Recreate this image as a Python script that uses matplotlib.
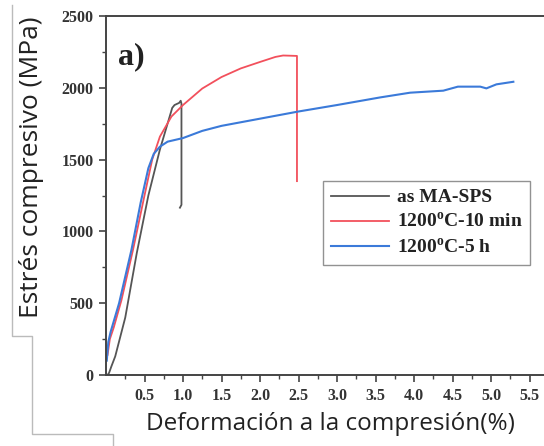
import numpy as np
import matplotlib.pyplot as plt
from matplotlib.lines import Line2D

# 数据
as_sps_x = [0.02, 0.04, 0.07, 0.12, 0.25, 0.40, 0.55, 0.70, 0.86, 0.89, 0.95, 0.97, 0.98, 0.98, 0.96]
as_sps_y = [0, 15, 60, 130, 400, 850, 1250, 1570, 1860, 1880, 1895, 1910, 1890, 1185, 1165]

min10_x = [0.02, 0.05, 0.10, 0.20, 0.35, 0.50, 0.60, 0.70, 0.85, 1.00, 1.25, 1.50, 1.75,
           2.00, 2.20, 2.30, 2.48, 2.48]
min10_y = [140, 250, 330, 520, 870, 1250, 1500, 1660, 1800, 1880, 1995, 2075, 2135,
           2180, 2215, 2225, 2222, 1350]

h5_x = [0.01, 0.03, 0.06, 0.17, 0.33, 0.45, 0.55, 0.62, 0.70, 0.80, 1.00, 1.25, 1.50,
        2.00, 2.50, 3.00, 3.56, 3.95, 4.38, 4.57, 4.86, 4.94, 5.07, 5.29]
h5_y = [100, 230, 300, 500, 870, 1200, 1440, 1540, 1590, 1625, 1650, 1700, 1735,
        1785, 1835, 1880, 1933, 1966, 1980, 2008, 2008, 1996, 2024, 2042]

labels = ['as MA-SPS', '1200$^{\\mathregular{o}}$C-10 min', '1200$^{\\mathregular{o}}$C-5 h']
colors = ['#555555', '#f2505c', '#3b7ad9']

xticks = [0.5, 1.0, 1.5, 2.0, 2.5, 3.0, 3.5, 4.0, 4.5, 5.0, 5.5]
yticks = [0, 500, 1000, 1500, 2000, 2500]

W, H = 544, 446
fig = plt.figure(figsize=(W / 100, H / 100), dpi=100)
ax = fig.add_axes([106 / W, (H - 375) / H, 442 / W, 359 / H])

ax.plot(as_sps_x, as_sps_y, color=colors[0], lw=1.3, label=labels[0])
ax.plot(min10_x, min10_y, color=colors[1], lw=1.3, label=labels[1])
ax.plot(h5_x, h5_y, color=colors[2], lw=1.5, label=labels[2])

ax.set_xlim(0, 5.74)
ax.set_ylim(0, 2500)
ax.set_xticks(xticks)
ax.set_yticks(yticks)
ax.set_xticks(np.arange(0.25, 5.75, 0.5), minor=True)
ax.set_yticks(np.arange(250, 2500, 500), minor=True)

serif = {'family': 'Liberation Serif', 'weight': 'bold', 'size': 11.5}
ax.set_xticklabels([f'{t:.1f}' for t in xticks], fontdict=serif, color='#333333')
ax.set_yticklabels([str(t) for t in yticks], fontdict=serif, color='#333333')
ax.tick_params(which='major', direction='out', length=5, width=1.2, color='#444444', pad=4)
ax.tick_params(which='minor', direction='out', length=3, width=1.0, color='#444444')

for side in ['left', 'bottom', 'top']:
    ax.spines[side].set_color('#444444')
    ax.spines[side].set_linewidth(1.4)
ax.spines['right'].set_visible(False)

ax.text(0.16, 2215, 'a)', fontfamily='Liberation Serif', fontweight='bold',
        fontsize=23, va='center', ha='left', color='#222222')

leg = ax.legend(loc='upper left', bbox_to_anchor=((323 - 106) / 442, (375 - 181) / 359),
                prop={'family': 'Liberation Serif', 'weight': 'bold', 'size': 14},
                frameon=True, fancybox=False, handlelength=3.0, handletextpad=0.4,
                labelspacing=0.3, borderpad=0.4, borderaxespad=0)
leg.get_frame().set_edgecolor('#777777')
leg.get_frame().set_linewidth(1.0)
for t in leg.get_texts():
    t.set_color('#222222')

# 叠加的西班牙语轴标签
fig.text(32 / W, 1 - 167 / H, 'Estrés compresivo (MPa)', rotation=90,
         fontfamily='Open Sans', fontsize=19, ha='center', va='center', color='#222222')
fig.text(330 / W, 1 - 424 / H, 'Deformación a la compresión(%)',
         fontfamily='Open Sans', fontsize=17.5, ha='center', va='center', color='#222222')

# 左侧灰色折线框
px = [12, 12, 32, 32, 113, 113]
py = [5, 336, 336, 434, 434, 446]
fig.add_artist(Line2D([x / W for x in px], [1 - y / H for y in py],
                      color='#bbbbbb', lw=1.0))

fig.savefig('out.png', dpi=100)
